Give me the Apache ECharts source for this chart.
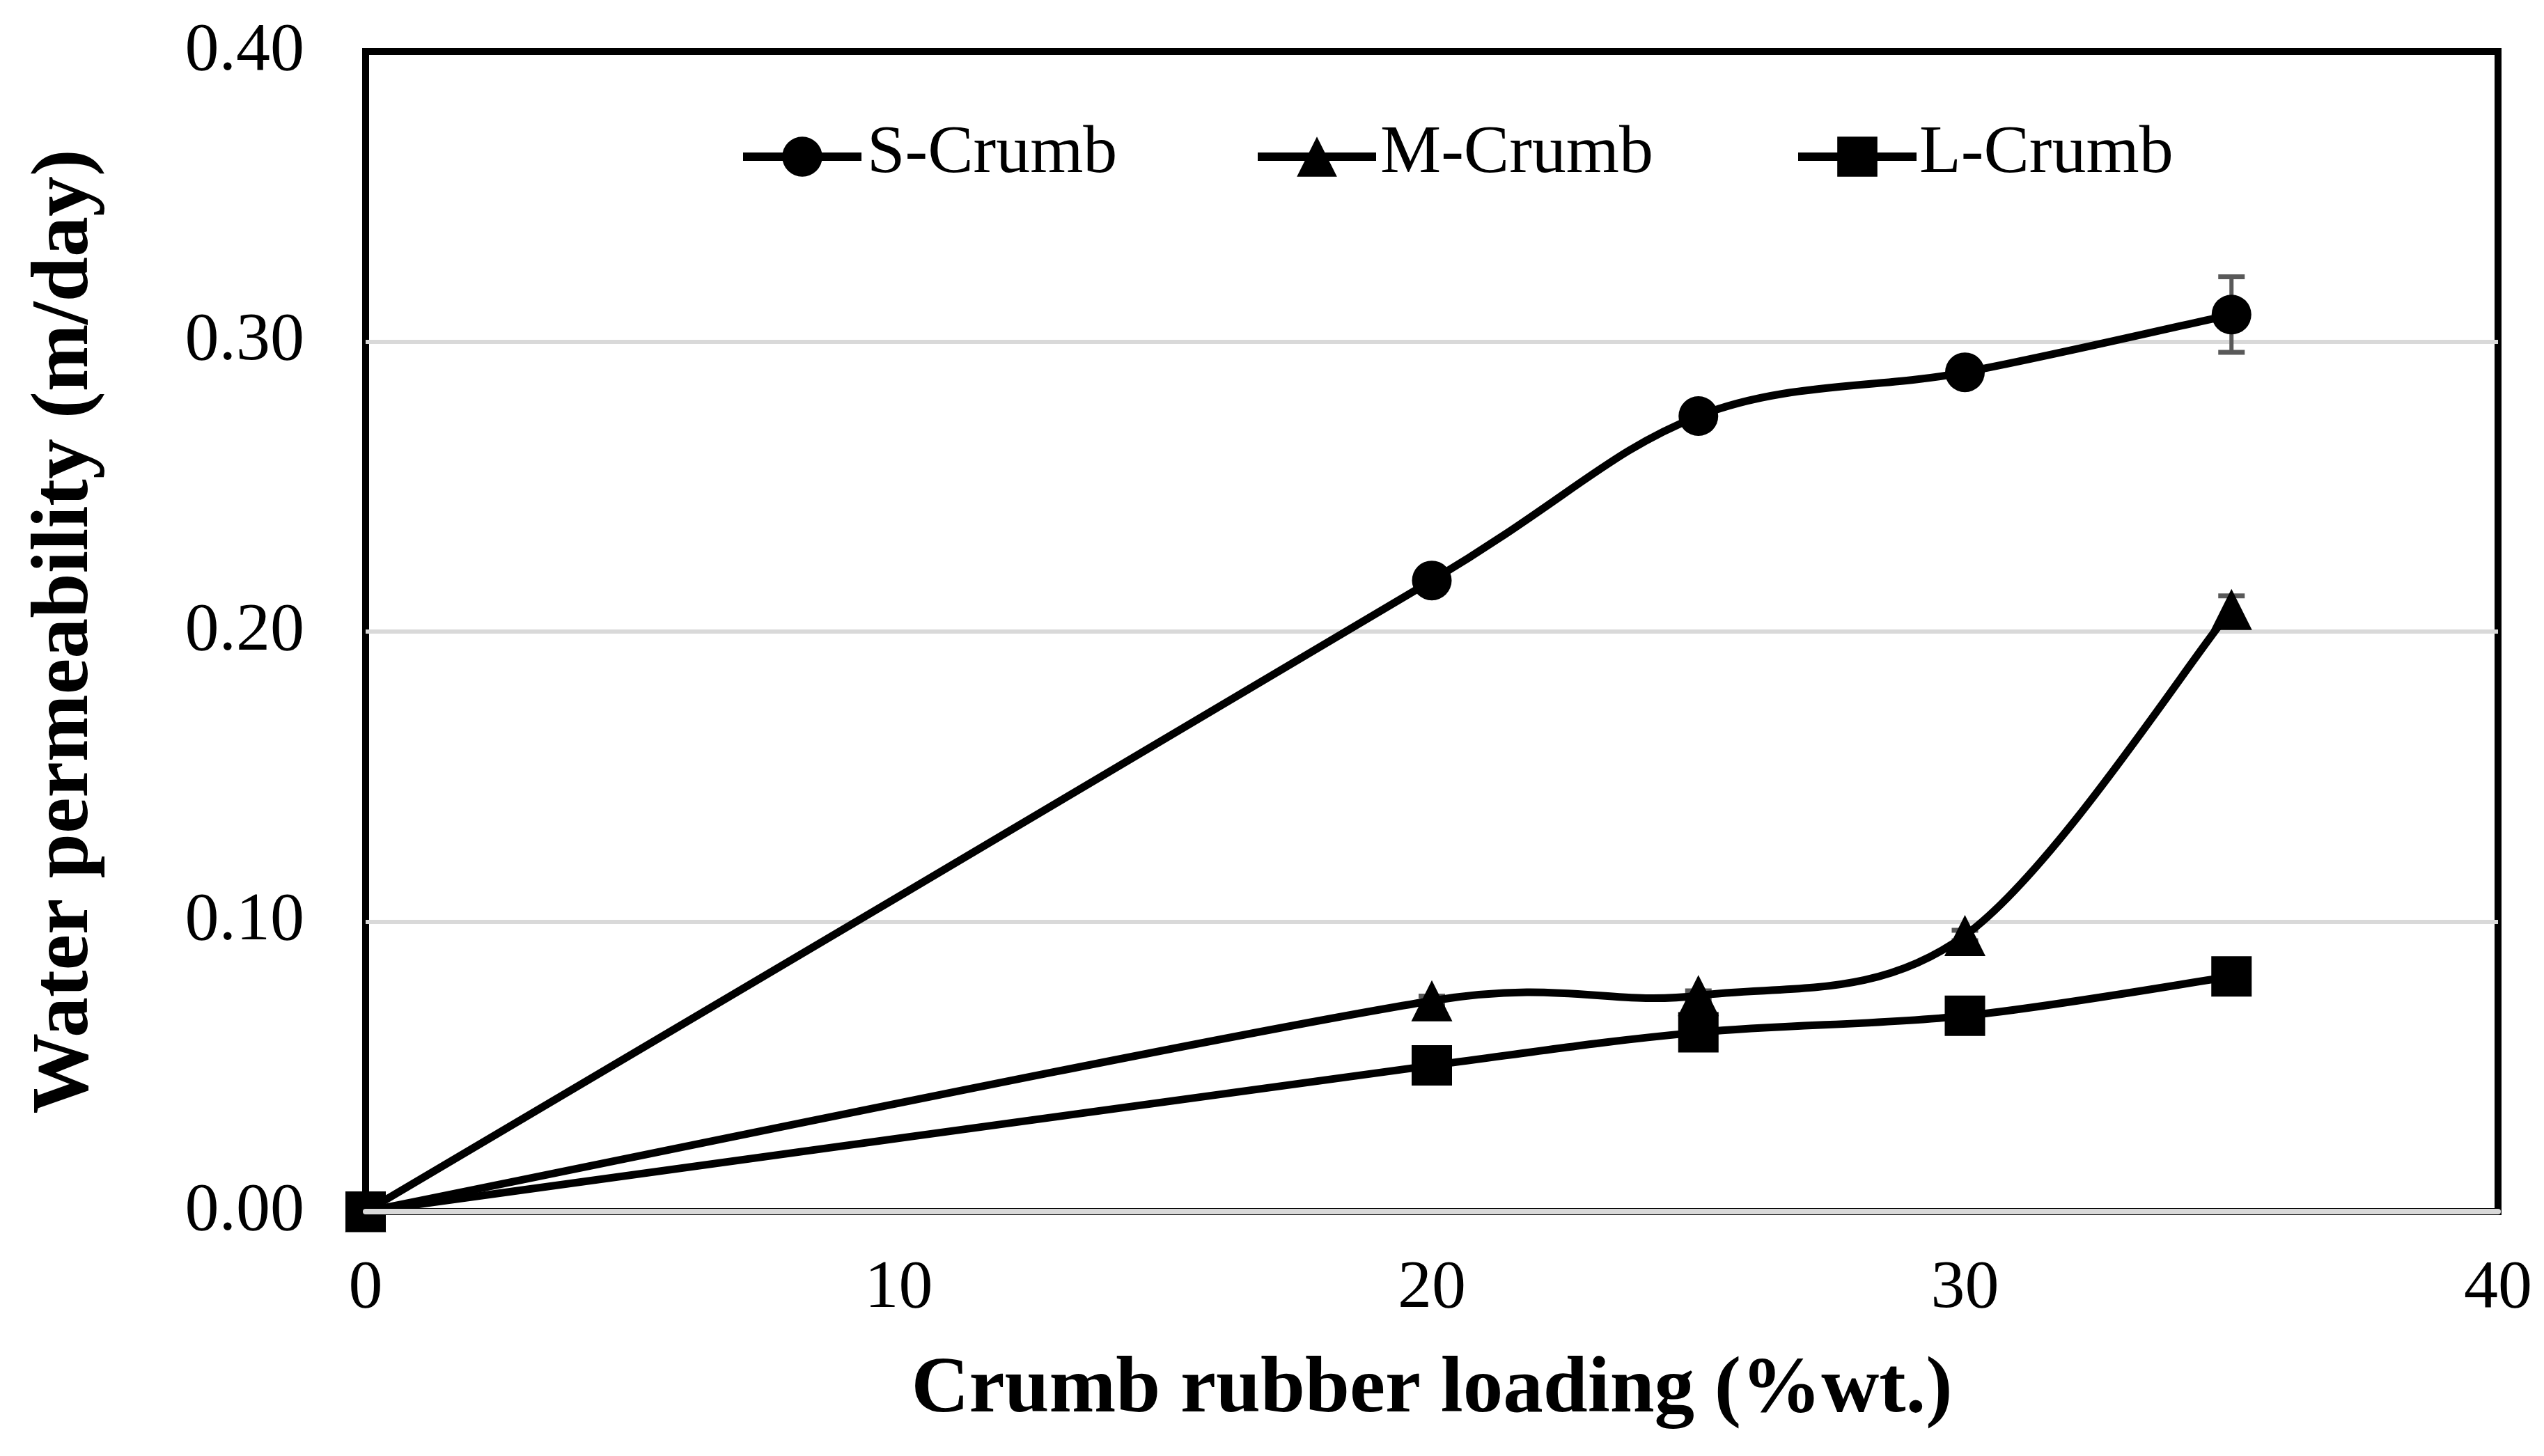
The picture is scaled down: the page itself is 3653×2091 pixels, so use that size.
<!DOCTYPE html>
<html>
<head>
<meta charset="utf-8">
<script src="https://cdn.jsdelivr.net/npm/echarts@6/dist/echarts.min.js"></script>
<style>
html,body{margin:0;padding:0;background:#fff;}
#chart{width:3653px;height:2091px;}
</style>
</head>
<body>
<div id="chart"></div>
<script>
// ---- data ----
var loading = [0, 20, 25, 30, 35];
var sCrumb = [0, 0.2176, 0.2743, 0.2894, 0.3093];
var mCrumb = [0, 0.0727, 0.0745, 0.0952, 0.2076];
var lCrumb = [0, 0.0504, 0.0618, 0.0675, 0.0811];
var sErr = [0, 0.002, 0.002, 0.002, 0.013];
var mErr = [0, 0.0016, 0.0016, 0.0018, 0.0047];
var lErr = [0, 0.001, 0.001, 0.001, 0.001];
var seriesNames = ['S-Crumb', 'M-Crumb', 'L-Crumb'];
var xTicks = [0, 10, 20, 30, 40];
var yTicks = [0, 0.1, 0.2, 0.3, 0.4];

function pairs(ys) { return loading.map(function (x, i) { return [x, ys[i]]; }); }
function errRows(ys, es) { return loading.map(function (x, i) { return [x, ys[i], es[i]]; }); }

var FONT = 'Liberation Serif';
var chart = echarts.init(document.getElementById('chart'), null, {renderer: 'canvas'});

function errorSeries(ys, es) {
  return {
    type: 'custom',
    z: 1,
    silent: true,
    data: errRows(ys, es),
    renderItem: function (params, api) {
      var x = api.value(0), y = api.value(1), e = api.value(2);
      if (!(e > 0)) return null;
      var top = api.coord([x, y + e]);
      var bot = api.coord([x, y - e]);
      var hw = 19;
      return {
        type: 'group',
        children: [
          {type: 'line', shape: {x1: top[0], y1: top[1], x2: bot[0], y2: bot[1]}, style: {stroke: '#595959', lineWidth: 6}},
          {type: 'line', shape: {x1: top[0] - hw, y1: top[1], x2: top[0] + hw, y2: top[1]}, style: {stroke: '#595959', lineWidth: 7}},
          {type: 'line', shape: {x1: bot[0] - hw, y1: bot[1], x2: bot[0] + hw, y2: bot[1]}, style: {stroke: '#595959', lineWidth: 7}}
        ]
      };
    }
  };
}

// Spreadsheet-style smoothed line: Bezier segments, control offsets (P[i+1]-P[i-1])/6
// capped at half the segment length, computed in pixel space from the axes' scales.
function smoothCurveSeries(ys) {
  return {
    type: 'custom',
    z: 2,
    silent: true,
    data: pairs(ys),
    renderItem: function (params, api) {
      var i = params.dataIndex;
      var n = loading.length;
      if (i >= n - 1) return null;
      var P = function (k) {
        k = Math.max(0, Math.min(n - 1, k));
        return api.coord([loading[k], ys[k]]);
      };
      var p0 = P(i - 1), p1 = P(i), p2 = P(i + 1), p3 = P(i + 2);
      var seg = Math.hypot(p2[0] - p1[0], p2[1] - p1[1]);
      function off(a, b) {
        var vx = (b[0] - a[0]) / 6, vy = (b[1] - a[1]) / 6;
        var len = Math.hypot(vx, vy);
        var cap = seg / 2;
        if (len > cap && len > 0) { vx *= cap / len; vy *= cap / len; }
        return [vx, vy];
      }
      var o1 = off(p0, p2), o2 = off(p1, p3);
      return {
        type: 'bezierCurve',
        shape: {
          x1: p1[0], y1: p1[1], x2: p2[0], y2: p2[1],
          cpx1: p1[0] + o1[0], cpy1: p1[1] + o1[1],
          cpx2: p2[0] - o2[0], cpy2: p2[1] - o2[1]
        },
        style: {stroke: '#000', lineWidth: 11, fill: null, lineCap: 'round'}
      };
    }
  };
}

function markerSeries(name, ys, symbol, size) {
  return {
    name: name,
    type: 'line',
    z: 3,
    data: pairs(ys),
    symbol: symbol,
    symbolSize: size,
    showAllSymbol: true,
    lineStyle: {color: '#000', width: 11, opacity: 0},
    itemStyle: {color: '#000', borderWidth: 0},
    emphasis: {disabled: true}
  };
}

// legend icons (line + marker) from the library; labels as serif text next to them
var legendIconLeft = [1056, 1795, 2571];
var legendTextLeft = [1245, 1982, 2756];

function legendFor(k) {
  return {
    data: [seriesNames[k]],
    left: legendIconLeft[k], top: 184,
    itemWidth: 170, itemHeight: 72,
    lineStyle: {color: '#000', width: 12, opacity: 1},
    itemStyle: {color: '#000', opacity: 1},
    formatter: function () { return ''; },
    selectedMode: false
  };
}

var option = {
  animation: false,
  backgroundColor: '#fff',
  textStyle: {fontFamily: FONT},
  grid: {
    left: 525, right: 66, top: 74, bottom: 351,
    show: true, borderColor: '#000', borderWidth: 10, backgroundColor: 'transparent'
  },
  legend: [legendFor(0), legendFor(1), legendFor(2)],
  graphic: seriesNames.map(function (n, k) {
    return {
      type: 'text',
      x: legendTextLeft[k],
      y: 221,
      z: 10,
      style: {
        text: n,
        font: 'normal 98px "Liberation Serif", "Times New Roman", serif',
        fill: '#000', align: 'left', verticalAlign: 'middle'
      }
    };
  }),
  xAxis: {
    type: 'value',
    min: 0, max: 40, interval: 10,
    z: 5,
    name: 'Crumb rubber loading (%wt.)',
    nameLocation: 'middle',
    nameGap: 200,
    nameTextStyle: {fontFamily: FONT, fontSize: 115, fontWeight: 'bold', color: '#000'},
    axisLine: {show: true, lineStyle: {color: '#d9d9d9', width: 8}},
    axisTick: {show: false},
    splitLine: {show: false},
    axisLabel: {
      fontFamily: FONT, fontSize: 98, color: '#000', margin: 62,
      formatter: function (v) { return xTicks.indexOf(v) >= 0 ? String(v) : ''; }
    }
  },
  yAxis: {
    type: 'value',
    min: 0, max: 0.4, interval: 0.1,
    name: 'Water permeability (m/day)',
    nameLocation: 'middle',
    nameRotate: 90,
    nameGap: 372,
    nameTextStyle: {fontFamily: FONT, fontSize: 116, fontWeight: 'bold', color: '#000'},
    axisLine: {show: false},
    axisTick: {show: false},
    splitLine: {show: true, showMinLine: false, showMaxLine: false, lineStyle: {color: '#d9d9d9', width: 6}},
    axisLabel: {
      fontFamily: FONT, fontSize: 98, color: '#000', margin: 88,
      formatter: function (v) { return v.toFixed(2); }
    }
  },
  series: [
    errorSeries(sCrumb, sErr),
    errorSeries(mCrumb, mErr),
    errorSeries(lCrumb, lErr),
    smoothCurveSeries(sCrumb),
    smoothCurveSeries(mCrumb),
    smoothCurveSeries(lCrumb),
    markerSeries(seriesNames[0], sCrumb, 'circle', 57),
    markerSeries(seriesNames[1], mCrumb, 'triangle', 59),
    markerSeries(seriesNames[2], lCrumb, 'rect', 58)
  ]
};
chart.setOption(option);
</script>
</body>
</html>
